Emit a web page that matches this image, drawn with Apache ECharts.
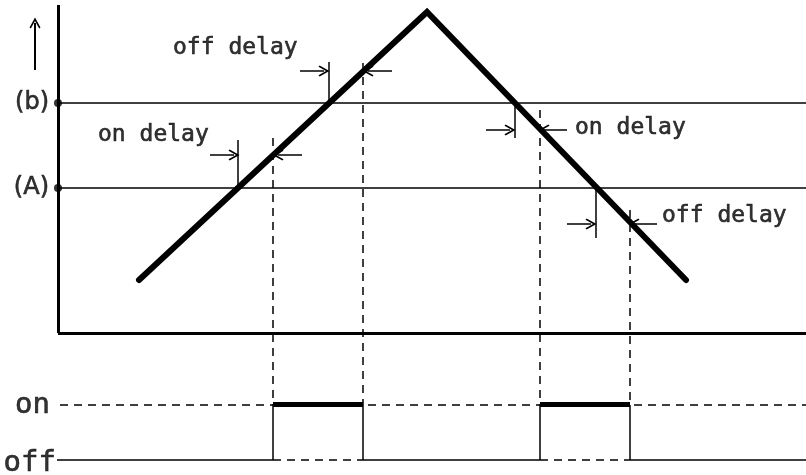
<!DOCTYPE html>
<html>
<head>
<meta charset="utf-8">
<script src="https://cdn.jsdelivr.net/npm/echarts@6/dist/echarts.min.js"></script>
<style>
  html, body { margin: 0; background: #fff; }
  #chart { width: 806px; height: 475px; }
</style>
</head>
<body>
<div id="chart"></div>
<script>
// diagram units: x = time position, y = level (both on a 1:1 frame scale)
const ramp = [[139, 195], [427, 463], [686, 195]]
const levelA = 287
const levelB = 372
const axisOrigin = [58, 142]
const axisTop = 470
const axisRight = 806
const onLevel = 70
const offLevel = 15
const offStart = 57
const switchX = [273, 363, 540, 630]
const switchTop = [337, 412, 365, 265]
// [x, from level, to level]
const crossTicks = [[238, 287, 335], [329, 372, 413], [515, 372, 337], [596, 287, 237]]
// [from x, to x, level]
const arrows = [[210, 234, 320], [302, 278, 320], [300, 324, 404], [392, 368, 404],
  [486, 510, 345], [567, 544, 345], [567, 591, 251], [657, 634, 251]]
const upArrow = [35, 405, 452]
const delayLabels = [['off delay', 173, 427], ['on delay', 98, 340], ['on delay', 575, 347], ['off delay', 662, 259]]
const levelLabels = [['(b)', 49, levelB], ['(A)', 49, levelA]]
const stateLabels = [['on', 50, onLevel], ['off', 56, 12]]

const MONO = 'DejaVu Sans Mono'
const arrowHead = 'path://M5,0 L10,9 L8.8,10 L5,3.2 L1.2,10 L0,9 Z'

const seg = (a, b, style) => ({ coords: [a, b], lineStyle: style })

const thin = { color: '#000', width: 1.5, type: 'solid', opacity: 1 }
const dashed = { color: '#000', width: 1.5, type: [8, 6], opacity: 1 }
const heavy = { color: '#000', width: 3, type: 'solid', opacity: 1 }
const bold = { color: '#000', width: 5, type: 'solid', opacity: 1 }

const segments = [
  // axes
  seg([axisOrigin[0], axisTop], axisOrigin, heavy),
  seg(axisOrigin, [axisRight, axisOrigin[1]], heavy),
  // thresholds
  seg([axisOrigin[0], levelB], [axisRight, levelB], thin),
  seg([axisOrigin[0], levelA], [axisRight, levelA], thin),
  // crossing ticks
  ...crossTicks.map(t => seg([t[0], t[1]], [t[0], t[2]], thin)),
  // dashed drop lines
  ...switchX.map((x, i) => seg([x, switchTop[i]], [x, onLevel], dashed)),
  // output levels
  seg([axisOrigin[0] + 2, onLevel], [axisRight, onLevel], dashed),
  seg([offStart, offLevel], [switchX[0], offLevel], thin),
  seg([switchX[0], offLevel], [switchX[1], offLevel], dashed),
  seg([switchX[1], offLevel], [switchX[2], offLevel], thin),
  seg([switchX[2], offLevel], [switchX[3], offLevel], dashed),
  seg([switchX[3], offLevel], [axisRight, offLevel], thin),
  ...switchX.map(x => seg([x, offLevel], [x, onLevel], thin)),
  seg([switchX[0], onLevel + 1], [switchX[1], onLevel + 1], bold),
  seg([switchX[2], onLevel + 1], [switchX[3], onLevel + 1], bold)
]

const arrowSegments = [
  ...arrows.map(a => ({ coords: [[a[0], a[2]], [a[1], a[2]]] })),
  { coords: [[upArrow[0], upArrow[1]], [upArrow[0], upArrow[2]]], lineStyle: { width: 2 } }
]

const textPoint = (pos) => (l) => ({
  value: [l[1], l[2]],
  name: l[0],
  label: { position: pos }
})

const textSeries = (items, pos, family, size) => ({
  type: 'scatter',
  symbolSize: 0,
  silent: true,
  label: {
    show: true, distance: 0, formatter: p => p.name,
    color: '#000', fontFamily: family, fontSize: size,
    textBorderColor: '#000', textBorderWidth: 0.6
  },
  data: items.map(textPoint(pos))
})

const chart = echarts.init(document.getElementById('chart'))

chart.setOption({
  animation: false,
  grid: { left: 0, right: 0, top: 0, bottom: 0 },
  xAxis: { type: 'value', min: 0, max: 806, show: false },
  yAxis: { type: 'value', min: 0, max: 475, show: false },
  series: [
    {
      type: 'lines',
      coordinateSystem: 'cartesian2d',
      silent: true,
      symbol: 'none',
      lineStyle: { opacity: 1 },
      data: segments
    },
    {
      type: 'lines',
      coordinateSystem: 'cartesian2d',
      silent: true,
      symbol: ['none', arrowHead],
      symbolSize: 11,
      lineStyle: { color: '#000', width: 1.5, opacity: 1 },
      data: arrowSegments
    },
    {
      type: 'line',
      data: ramp,
      symbol: 'none',
      silent: true,
      lineStyle: { color: '#000', width: 6, cap: 'round', join: 'miter' }
    },
    {
      type: 'scatter',
      data: [[axisOrigin[0], levelB], [axisOrigin[0], levelA]],
      symbolSize: 8,
      itemStyle: { color: '#000' },
      silent: true
    },
    textSeries(delayLabels, 'right', MONO, 23),
    textSeries(levelLabels, 'left', 'DejaVu Sans', 24),
    textSeries(stateLabels, 'left', MONO, 29)
  ]
})
</script>
</body>
</html>
